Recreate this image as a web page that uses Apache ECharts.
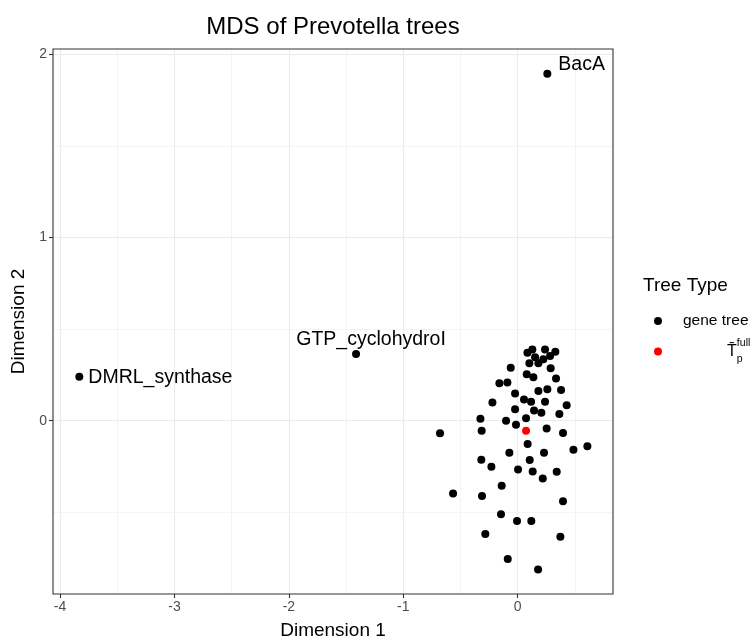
<!DOCTYPE html>
<html>
<head>
<meta charset="utf-8">
<script src="https://cdn.jsdelivr.net/npm/echarts@6/dist/echarts.min.js"></script>
<style>
  html, body { margin: 0; padding: 0; background: #ffffff; }
  #chart { width: 750px; height: 640px; }
</style>
</head>
<body>
<div id="chart"></div>
<script>
// MDS coordinates of the individual gene trees
const geneDim1 = [
  0.085, 0.128, 0.239, 0.329, 0.152, 0.102, 0.181, 0.224, 0.283, -0.061,
  0.288, 0.079, 0.137, 0.335, -0.160, -0.090, 0.181, 0.259, 0.379, -0.023,
  0.055, 0.117, 0.239, 0.428, -0.221, -0.023, 0.143, 0.207, 0.364, -0.326,
  -0.102, 0.073, -0.015, -0.679, -0.315, 0.253, 0.396, 0.087, 0.487, 0.609,
  -0.073, 0.230, -0.318, 0.105, -0.230, 0.003, 0.131, 0.341, 0.219, -0.140,
  -0.565, -0.312, 0.396, -0.146, -0.006, 0.119, -0.283, 0.373, -0.087, 0.178
];
const geneDim2 = [
  0.371, 0.389, 0.389, 0.377, 0.346, 0.313, 0.313, 0.335, 0.353, 0.289,
  0.286, 0.253, 0.237, 0.231, 0.204, 0.209, 0.162, 0.171, 0.167, 0.149,
  0.116, 0.104, 0.104, 0.084, 0.100, 0.062, 0.055, 0.044, 0.036, 0.011,
  0.000, 0.013, -0.022, -0.069, -0.055, -0.042, -0.067, -0.127, -0.158, -0.140,
  -0.175, -0.175, -0.213, -0.215, -0.251, -0.266, -0.277, -0.278, -0.315, -0.355,
  -0.398, -0.411, -0.440, -0.511, -0.548, -0.548, -0.619, -0.633, -0.755, -0.812
];

// Outlying gene trees, drawn with their names
const namedTrees = ['BacA', 'GTP_cyclohydroI', 'DMRL_synthase'];
const namedDim1 = [0.259, -1.413, -3.832];
const namedDim2 = [1.894, 0.364, 0.240];

// Full-data reference tree
const fullDim1 = [0.073];
const fullDim2 = [-0.055];

// Axis ticks and grid lines
const xTicks = [-4, -3, -2, -1, 0];
const yTicks = [0, 1, 2];
const xMinor = [-3.5, -2.5, -1.5, -0.5, 0.5];
const yMinor = [-0.5, 0.5, 1.5];

const FONT = '"Liberation Sans", Arial, Helvetica, sans-serif';

// label placement for the named points
const namedLabelStyle = {
  'BacA': { position: 'right', distance: 7, offset: [0, -9] },
  'GTP_cyclohydroI': { position: 'top', distance: 1, offset: [15, 1] },
  'DMRL_synthase': { position: 'right', distance: 5, offset: [0, 1] }
};

const geneData = geneDim1.map((x, i) => ({ value: [x, geneDim2[i]] }));
namedTrees.forEach((name, i) => {
  const s = namedLabelStyle[name];
  geneData.push({
    name: name,
    value: [namedDim1[i], namedDim2[i]],
    label: {
      show: true,
      formatter: name,
      position: s.position,
      distance: s.distance,
      offset: s.offset
    }
  });
});
const fullData = fullDim1.map((x, i) => [x, fullDim2[i]]);

const majorLine = { color: '#ebebeb', width: 1.1, type: 'solid' };
const minorLine = { color: '#f4f4f4', width: 1, type: 'solid' };
const gridLines = [];
xTicks.forEach(v => gridLines.push({ xAxis: v, lineStyle: majorLine }));
xMinor.forEach(v => gridLines.push({ xAxis: v, lineStyle: minorLine }));
yTicks.forEach(v => gridLines.push({ yAxis: v, lineStyle: majorLine }));
yMinor.forEach(v => gridLines.push({ yAxis: v, lineStyle: minorLine }));

const chart = echarts.init(document.getElementById('chart'), null, { renderer: 'canvas' });

const legendText = {
  fontFamily: FONT,
  color: '#000000',
  rich: {
    gap1: { width: 16 },
    nm: { fontSize: 15.5, fontFamily: FONT, color: '#000000' },
    gap2: { width: 60 },
    tb: { fontSize: 16, lineHeight: 27, fontFamily: FONT, color: '#000000' },
    sub: { fontSize: 10.5, lineHeight: 12, width: 0.1, verticalAlign: 'bottom', fontFamily: FONT, color: '#000000' },
    sup: { fontSize: 10.5, lineHeight: 12, verticalAlign: 'top', fontFamily: FONT, color: '#000000' }
  }
};

chart.setOption({
  animation: false,
  backgroundColor: '#ffffff',
  textStyle: { fontFamily: FONT },
  title: [
    {
      text: 'MDS of Prevotella trees',
      left: 333,
      top: 15,
      padding: 0,
      textAlign: 'center',
      textStyle: { fontSize: 24, fontWeight: 'normal', color: '#000000', fontFamily: FONT }
    },
    {
      text: 'Tree Type',
      left: 643,
      top: 276,
      padding: 0,
      textStyle: { fontSize: 19, fontWeight: 'normal', color: '#000000', fontFamily: FONT }
    }
  ],
  legend: [
    {
      data: ['gene tree'],
      left: 654,
      top: 313,
      padding: 0,
      icon: 'circle',
      itemWidth: 8,
      itemHeight: 8,
      selectedMode: false,
      formatter: () => '{gap1|}{nm|gene tree}',
      textStyle: legendText
    },
    {
      data: ['Tfull'],
      left: 654,
      top: 338,
      padding: 0,
      icon: 'circle',
      itemWidth: 8,
      itemHeight: 8,
      selectedMode: false,
      formatter: () => '{gap2|}{tb|T\u0304}{sub|p}{sup|full}',
      textStyle: legendText
    }
  ],
  grid: {
    left: 53,
    right: 137,
    top: 49,
    bottom: 46,
    outerBoundsMode: 'none',
    containLabel: false,
    show: true,
    borderColor: '#333333',
    borderWidth: 1.1,
    backgroundColor: 'transparent',
    z: 5
  },
  xAxis: {
    type: 'value',
    min: -4.062,
    max: 0.833,
    name: 'Dimension 1',
    nameLocation: 'middle',
    nameGap: 27,
    nameTextStyle: { fontSize: 19, color: '#000000', fontFamily: FONT },
    axisLine: { show: false, onZero: false },
    splitLine: { show: false },
    axisTick: {
      show: true,
      customValues: xTicks,
      length: 4,
      lineStyle: { color: '#333333', width: 1.1 }
    },
    axisLabel: {
      customValues: xTicks,
      margin: 6,
      fontSize: 14,
      color: '#4d4d4d',
      fontFamily: FONT
    }
  },
  yAxis: {
    type: 'value',
    min: -0.946,
    max: 2.029,
    name: 'Dimension 2',
    nameLocation: 'middle',
    nameGap: 25,
    nameTextStyle: { fontSize: 19, color: '#000000', fontFamily: FONT },
    axisLine: { show: false, onZero: false },
    splitLine: { show: false },
    axisTick: {
      show: true,
      customValues: yTicks,
      length: 4,
      lineStyle: { color: '#333333', width: 1.1 }
    },
    axisLabel: {
      customValues: yTicks,
      margin: 6,
      fontSize: 14,
      color: '#4d4d4d',
      fontFamily: FONT
    }
  },
  series: [
    {
      name: 'grid',
      type: 'scatter',
      data: [],
      silent: true,
      z: 1,
      markLine: {
        silent: true,
        z: 1,
        symbol: 'none',
        animation: false,
        label: { show: false },
        emphasis: { disabled: true },
        data: gridLines
      }
    },
    {
      name: 'gene tree',
      type: 'scatter',
      symbol: 'circle',
      symbolSize: 8,
      itemStyle: { color: '#000000', opacity: 1 },
      label: { fontSize: 19.5, color: '#000000', fontFamily: FONT },
      z: 3,
      data: geneData
    },
    {
      name: 'Tfull',
      type: 'scatter',
      symbol: 'circle',
      symbolSize: 8,
      itemStyle: { color: '#ff0000', opacity: 1 },
      z: 4,
      data: fullData
    }
  ]
});
</script>
</body>
</html>
